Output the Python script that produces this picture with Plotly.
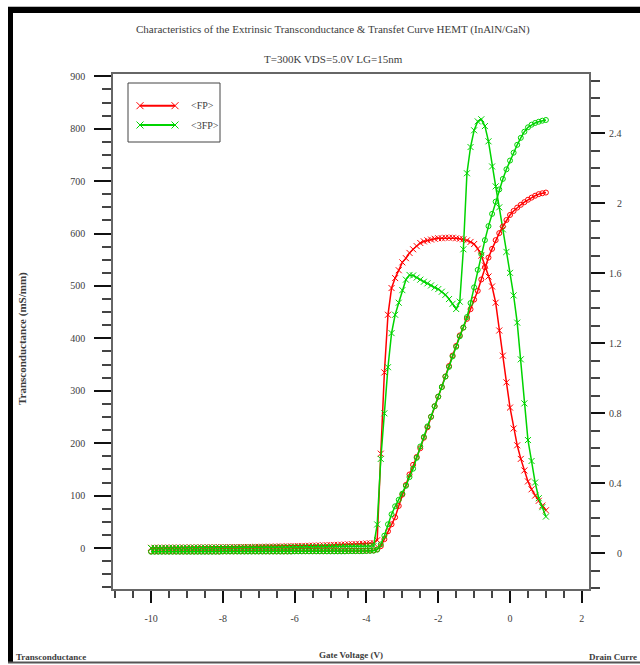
import plotly.graph_objects as go

# Gate voltage sweep (V)
VG = [-10.0, -9.9, -9.8, -9.7, -9.6, -9.5, -9.4, -9.3, -9.2, -9.1,
      -9.0, -8.9, -8.8, -8.7, -8.6, -8.5, -8.4, -8.3, -8.2, -8.1,
      -8.0, -7.9, -7.8, -7.7, -7.6, -7.5, -7.4, -7.3, -7.2, -7.1,
      -7.0, -6.9, -6.8, -6.7, -6.6, -6.5, -6.4, -6.3, -6.2, -6.1,
      -6.0, -5.9, -5.8, -5.7, -5.6, -5.5, -5.4, -5.3, -5.2, -5.1,
      -5.0, -4.9, -4.8, -4.7, -4.6, -4.5, -4.4, -4.3, -4.2, -4.1,
      -4.0, -3.9, -3.8, -3.7, -3.6, -3.5, -3.4, -3.3, -3.2, -3.1,
      -3.0, -2.9, -2.8, -2.7, -2.6, -2.5, -2.4, -2.3, -2.2, -2.1,
      -2.0, -1.9, -1.8, -1.7, -1.6, -1.5, -1.4, -1.3, -1.2, -1.1,
      -1.0, -0.9, -0.8, -0.7, -0.6, -0.5, -0.4, -0.3, -0.2, -0.1,
      0.0, 0.1, 0.2, 0.3, 0.4, 0.5, 0.6, 0.7, 0.8, 0.9,
      1.0]

# Extrinsic transconductance (mS/mm)
GM_FP = [0.4, 0.5, 0.5, 0.6, 0.6, 0.7, 0.7, 0.8, 0.8, 0.9,
         0.9, 1.0, 1.0, 1.1, 1.1, 1.2, 1.2, 1.3, 1.3, 1.4,
         1.5, 1.5, 1.6, 1.7, 1.7, 1.8, 1.9, 2.0, 2.0, 2.1,
         2.2, 2.3, 2.4, 2.5, 2.6, 2.8, 2.9, 3.0, 3.2, 3.3,
         3.5, 3.7, 3.8, 4.0, 4.2, 4.4, 4.6, 4.8, 5.0, 5.3,
         5.5, 5.8, 6.0, 6.3, 6.6, 6.9, 7.2, 7.5, 7.8, 8.2,
         8.6, 9.0, 9.5, 15, 180, 335, 445, 496, 515, 530,
         545, 553, 563, 570, 576, 582, 585, 587, 588.5, 590,
         591, 591, 592, 592, 592, 591, 590, 589, 587, 584,
         580, 571, 558, 539, 518, 499, 468, 415, 367, 316,
         268, 228, 196, 170, 148, 127, 112, 100, 90, 81,
         72]

GM_3FP = [0.0, 0.1, 0.1, 0.2, 0.2, 0.2, 0.3, 0.3, 0.3, 0.4,
          0.4, 0.4, 0.5, 0.5, 0.5, 0.6, 0.6, 0.6, 0.7, 0.7,
          0.7, 0.8, 0.8, 0.8, 0.9, 0.9, 1.0, 1.0, 1.0, 1.1,
          1.1, 1.2, 1.2, 1.2, 1.3, 1.3, 1.4, 1.4, 1.5, 1.5,
          1.6, 1.6, 1.7, 1.7, 1.8, 1.8, 1.9, 1.9, 2.0, 2.1,
          2.1, 2.2, 2.3, 2.3, 2.4, 2.5, 2.6, 2.7, 2.8, 2.9,
          3.0, 3.2, 4.0, 45, 170, 257, 345, 410, 445, 468,
          492, 512, 521, 520, 516, 512, 508, 505, 501, 497,
          494, 489, 483, 475, 466, 456, 470, 570, 715, 765,
          797, 814, 818, 805, 776, 728, 690, 650, 608, 565,
          525, 482, 430, 360, 276, 206, 166, 125, 95, 78,
          60]

# Drain current (A/mm)
ID_FP = [0.010, 0.010, 0.010, 0.010, 0.010, 0.010, 0.010, 0.010, 0.010, 0.010,
         0.010, 0.010, 0.010, 0.010, 0.010, 0.010, 0.010, 0.010, 0.010, 0.010,
         0.011, 0.011, 0.011, 0.011, 0.011, 0.011, 0.011, 0.011, 0.011, 0.011,
         0.011, 0.011, 0.011, 0.011, 0.011, 0.011, 0.011, 0.011, 0.011, 0.011,
         0.012, 0.012, 0.012, 0.012, 0.012, 0.012, 0.012, 0.012, 0.012, 0.012,
         0.012, 0.012, 0.012, 0.012, 0.012, 0.013, 0.013, 0.013, 0.013, 0.013,
         0.014, 0.015, 0.016, 0.022, 0.040, 0.080, 0.125, 0.165, 0.205, 0.270,
         0.335, 0.390, 0.450, 0.505, 0.550, 0.600, 0.660, 0.720, 0.780, 0.840,
         0.895, 0.950, 1.010, 1.070, 1.130, 1.185, 1.245, 1.290, 1.340, 1.395,
         1.450, 1.500, 1.565, 1.635, 1.690, 1.740, 1.790, 1.830, 1.868, 1.905,
         1.934, 1.957, 1.976, 1.992, 2.007, 2.021, 2.033, 2.044, 2.053, 2.058,
         2.062]

ID_3FP = [0.008, 0.008, 0.008, 0.008, 0.008, 0.008, 0.008, 0.008, 0.008, 0.008,
          0.008, 0.008, 0.008, 0.008, 0.008, 0.008, 0.008, 0.008, 0.008, 0.008,
          0.009, 0.009, 0.009, 0.009, 0.009, 0.009, 0.009, 0.009, 0.009, 0.009,
          0.009, 0.009, 0.009, 0.009, 0.009, 0.009, 0.009, 0.009, 0.009, 0.009,
          0.010, 0.010, 0.010, 0.010, 0.010, 0.010, 0.010, 0.010, 0.010, 0.010,
          0.010, 0.010, 0.010, 0.010, 0.010, 0.011, 0.011, 0.011, 0.011, 0.011,
          0.012, 0.013, 0.014, 0.020, 0.050, 0.100, 0.165, 0.222, 0.268, 0.305,
          0.340, 0.385, 0.435, 0.483, 0.545, 0.610, 0.665, 0.725, 0.780, 0.840,
          0.895, 0.950, 1.010, 1.065, 1.125, 1.180, 1.240, 1.290, 1.350, 1.430,
          1.520, 1.620, 1.710, 1.790, 1.870, 1.940, 2.010, 2.080, 2.140, 2.195,
          2.245, 2.290, 2.335, 2.375, 2.410, 2.435, 2.450, 2.460, 2.467, 2.473,
          2.477]

X_TICKS = [-10, -8, -6, -4, -2, 0, 2]
X_TICK_TEXT = ["-10", "-8", "-6", "-4", "-2", "0", "2"]
GM_TICKS = [0, 100, 200, 300, 400, 500, 600, 700, 800, 900]
ID_TICKS = [0, 0.4, 0.8, 1.2, 1.6, 2.0, 2.4]
ID_TICK_TEXT = ["0", "0.4", "0.8", "1.2", "1.6", "2", "2.4"]

SERIES_NAMES = ["<FP>", "<3FP>"]

RED = "#ff0000"
GREEN = "#00d400"
FONT = "Liberation Serif"
TXT = "#3c3c3c"

W, H = 640, 665
L, R, T, B = 113, 51, 74, 76
PW, PH = W - L - R, H - T - B


def fx(x):
    """pixel column -> paper x"""
    return (x - L) / PW


def fy(y):
    """pixel row -> paper y"""
    return (H - B - y) / PH


fig = go.Figure()

# drain current curves (right axis), open circles
for ids, col in [(ID_FP, RED), (ID_3FP, GREEN)]:
    fig.add_trace(go.Scatter(
        x=VG, y=ids, yaxis="y2", mode="lines+markers",
        line=dict(color=col, width=1.5),
        marker=dict(symbol="circle-open", size=5, color=col, line=dict(width=1)),
        showlegend=False, hoverinfo="skip"))

# transconductance curves (left axis), x markers
for gm, col, name in [(GM_FP, RED, SERIES_NAMES[0]), (GM_3FP, GREEN, SERIES_NAMES[1])]:
    fig.add_trace(go.Scatter(
        x=VG, y=gm, mode="lines+markers", name=name,
        line=dict(color=col, width=1.5),
        marker=dict(symbol="x-thin-open", size=6, color=col, line=dict(width=1, color=col)),
        showlegend=False))

tick_font = dict(family=FONT, size=10, color=TXT)

fig.update_layout(
    width=W, height=H,
    margin=dict(l=L, r=R, t=T, b=B, pad=0),
    paper_bgcolor="white", plot_bgcolor="white",
    showlegend=False,
    font=dict(family=FONT, size=10, color=TXT),
    xaxis=dict(
        range=[-11.06, 2.2], tickmode="array", tickvals=X_TICKS, ticktext=X_TICK_TEXT,
        ticks="outside", ticklen=12, tickwidth=2, tickcolor="#111",
        minor=dict(tickmode="linear", tick0=0, dtick=0.5, ticks="outside",
                   ticklen=7, tickwidth=1.5, tickcolor="#444"),
        showline=True, linecolor="#666", linewidth=2, mirror=True,
        showgrid=False, zeroline=False, tickfont=tick_font, ticklabelstandoff=7),
    yaxis=dict(
        range=[-78.2, 904.4], tickmode="array", tickvals=GM_TICKS,
        ticks="outside", ticklen=17, tickwidth=2, tickcolor="#111",
        minor=dict(tickmode="linear", tick0=0, dtick=25, ticks="outside",
                   ticklen=9, tickwidth=1.5, tickcolor="#444"),
        showline=True, linecolor="#666", linewidth=1.5,
        showgrid=False, zeroline=False, tickfont=tick_font, ticklabelstandoff=7),
    yaxis2=dict(
        overlaying="y", side="right", range=[-0.205, 2.74],
        tickmode="array", tickvals=ID_TICKS, showticklabels=False,
        ticks="outside", ticklen=14, tickwidth=2, tickcolor="#111",
        minor=dict(tickmode="linear", tick0=0, dtick=0.1, ticks="outside",
                   ticklen=9, tickwidth=1.5, tickcolor="#444"),
        showline=True, linecolor="#666", linewidth=2,
        showgrid=False, zeroline=False),
)

ann = []
# right axis tick labels, right aligned
for v, t in zip(ID_TICKS, ID_TICK_TEXT):
    ann.append(dict(x=fx(624), y=v, xref="paper", yref="y2", text=t, showarrow=False,
                    xanchor="right", yanchor="middle", font=tick_font))

ann += [
    dict(x=fx(333), y=fy(30), text="Characteristics of the Extrinsic Transconductance &amp; Transfet Curve HEMT (InAlN/GaN)",
         font=dict(family=FONT, size=11, color=TXT)),
    dict(x=fx(333), y=fy(59), text="T=300K VDS=5.0V LG=15nm",
         font=dict(family=FONT, size=11, color=TXT)),
    dict(x=fx(351), y=fy(655), text="<b>Gate Voltage (V)</b>",
         font=dict(family=FONT, size=9, color=TXT)),
    dict(x=fx(14), y=fy(657), text="<b>Transconductance</b>", xanchor="left",
         font=dict(family=FONT, size=9, color=TXT)),
    dict(x=fx(639), y=fy(657), text="<b>Drain Curre</b>", xanchor="right",
         font=dict(family=FONT, size=9, color=TXT)),
    dict(x=fx(22), y=fy(339), text="<b>Transconductance (mS/mm)</b>", textangle=-90,
         font=dict(family=FONT, size=11, color=TXT)),
]

shapes = []
# outer frame
shapes.append(dict(type="line", x0=fx(10.5), x1=fx(10.5), y0=fy(7), y1=fy(662),
                   line=dict(color="black", width=5)))
shapes.append(dict(type="line", x0=fx(8), x1=fx(660), y0=fy(10), y1=fy(10),
                   line=dict(color="black", width=6)))
shapes.append(dict(type="line", x0=fx(8), x1=fx(660), y0=fy(6.5), y1=fy(6.5),
                   line=dict(color="#bbbbbb", width=1)))
shapes.append(dict(type="line", x0=fx(8), x1=fx(660), y0=fy(662.5), y1=fy(662.5),
                   line=dict(color="#555555", width=2)))

# legend box
shapes.append(dict(type="rect", x0=fx(128), x1=fx(220), y0=fy(83), y1=fy(142),
                   line=dict(color="#444", width=1)))
for yrow, col, name in [(105.7, RED, SERIES_NAMES[0]), (125, GREEN, SERIES_NAMES[1])]:
    shapes.append(dict(type="line", x0=fx(140), x1=fx(175), y0=fy(yrow), y1=fy(yrow),
                       line=dict(color=col, width=2)))
    for cx in (140, 175):
        for d in (1, -1):
            shapes.append(dict(type="line", x0=fx(cx - 3.5), x1=fx(cx + 3.5),
                               y0=fy(yrow - 3.5 * d), y1=fy(yrow + 3.5 * d),
                               line=dict(color=col, width=1)))
    ann.append(dict(x=fx(189), y=fy(yrow), xanchor="left",
                    text=name.replace("<", "&lt;").replace(">", "&gt;"),
                    font=dict(family=FONT, size=10, color=TXT)))

for a in ann:
    a.setdefault("xref", "paper")
    a.setdefault("yref", "paper")
    a.setdefault("showarrow", False)
    a.setdefault("xanchor", "center")
    a.setdefault("yanchor", "middle")
for s in shapes:
    s["xref"] = "paper"
    s["yref"] = "paper"

fig.update_layout(annotations=ann, shapes=shapes)

fig.write_html("out.html")
